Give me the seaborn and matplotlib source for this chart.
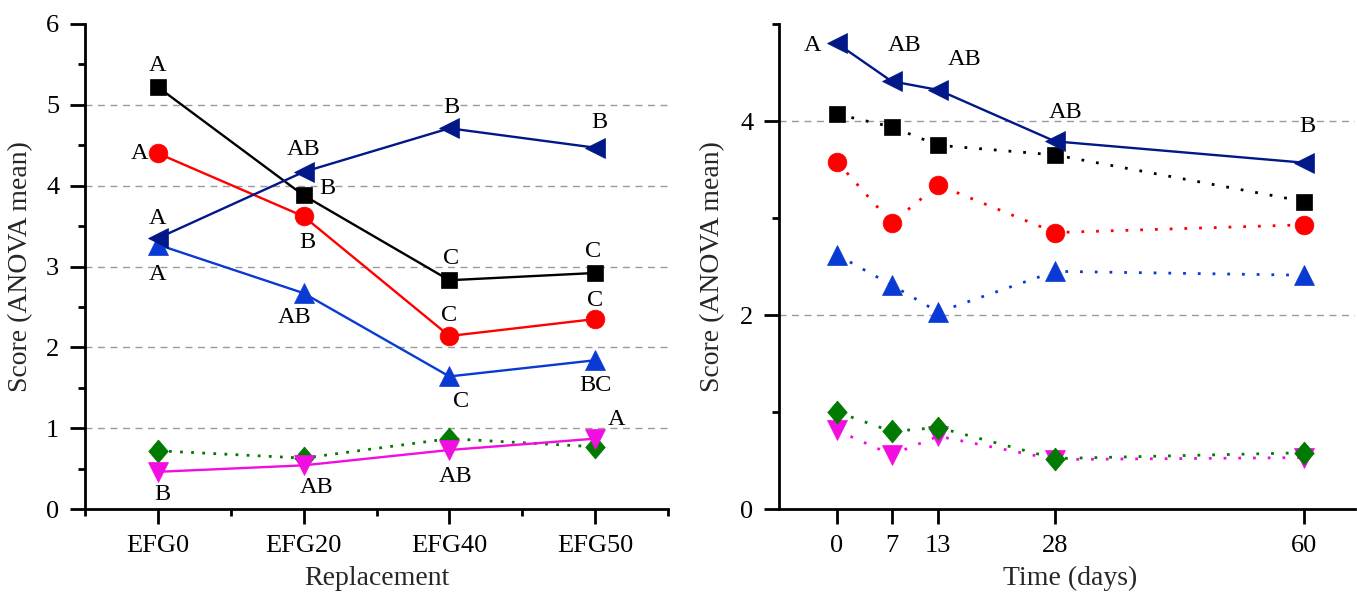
import numpy as np
import pandas as pd
import matplotlib
matplotlib.use("Agg")
import matplotlib.pyplot as plt
import seaborn as sns

# ---------------- data ----------------
replacement = ["EFG0", "EFG20", "EFG40", "EFG50"]
days = [0, 7, 13, 28, 60]

# left panel (Replacement)
L_black = [5.22, 3.88, 2.83, 2.92]
L_red = [4.40, 3.62, 2.14, 2.35]
L_blue = [3.27, 2.67, 1.64, 1.84]
L_navy = [3.35, 4.17, 4.71, 4.47]
L_green = [0.72, 0.63, 0.87, 0.77]
L_magenta = [0.46, 0.54, 0.73, 0.87]

L_black_let = ["A", "B", "C", "C"]
L_red_let = ["A", "B", "C", "C"]
L_blue_let = ["A", "AB", "C", "BC"]
L_navy_let = ["A", "AB", "B", "B"]
L_magenta_let = ["B", "AB", "AB", "A"]

# right panel (Time)
R_navy = [4.80, 4.41, 4.32, 3.79, 3.57]
R_black = [4.07, 3.94, 3.75, 3.65, 3.17]
R_red = [3.58, 2.95, 3.34, 2.85, 2.93]
R_blue = [2.62, 2.31, 2.03, 2.45, 2.41]
R_green = [1.00, 0.80, 0.84, 0.52, 0.58]
R_magenta = [0.81, 0.56, 0.75, 0.51, 0.53]

R_navy_let = ["A", "AB", "AB", "AB", "B"]

left_yticks = [0, 1, 2, 3, 4, 5, 6]
right_yticks = [0, 2, 4]

# ---------------- styles ----------------
C_BLACK = "#000000"
C_RED = "#ff0000"
C_BLUE = "#0a3ad4"
C_NAVY = "#001888"
C_GREEN = "#007a00"
C_MAGENTA = "#f20de0"
DIAMOND = [(0, 1), (0.85, 0), (0, -1), (-0.85, 0), (0, 1)]
DOT = (0, (1, 4.3))
DOT_L = (0, (1, 3.0))
PX = 0.72  # pixels -> points at dpi 100

sns.set_theme(style="white")
plt.rcParams["font.family"] = ["Liberation Serif", "DejaVu Serif"]
plt.rcParams["mathtext.fontset"] = "stix"

fig = plt.figure(figsize=(13.57, 5.94), dpi=100)
fig.patch.set_facecolor("white")
axL = fig.add_axes([85 / 1357, 1 - 509 / 594, 583 / 1357, 485 / 594])
axR = fig.add_axes([779 / 1357, 1 - 509 / 594, 576 / 1357, 485 / 594])


def draw(ax, x, y, color, marker, ms, ls, lw=1.7):
    df = pd.DataFrame({"x": x, "y": y})
    sns.lineplot(data=df, x="x", y="y", ax=ax, color=color, marker=marker,
                 markersize=ms, linestyle=ls, linewidth=lw, errorbar=None,
                 sort=False, markeredgecolor=color, markeredgewidth=0.5,
                 clip_on=False)


def label(ax, xs, ys, letters, offsets, color="black"):
    for xv, yv, t, (dx, dy) in zip(xs, ys, letters, offsets):
        ax.annotate(t, (xv, yv), xytext=(dx * PX, dy * PX), textcoords="offset points",
                    ha="center", va="center", fontsize=17.5, color=color)


# ---- left panel ----
draw(axL, replacement, L_green, C_GREEN, DIAMOND, 16.5, DOT_L, 2.0)
draw(axL, replacement, L_magenta, C_MAGENTA, "v", 14.5, "-")
draw(axL, replacement, L_blue, C_BLUE, "^", 14.5, "-")
draw(axL, replacement, L_red, C_RED, "o", 13.5, "-")
draw(axL, replacement, L_black, C_BLACK, "s", 12, "-")
draw(axL, replacement, L_navy, C_NAVY, "<", 14.5, "-")

xpos = np.arange(len(replacement))
label(axL, xpos, L_black, L_black_let, [(0, 22), (24, 7), (2, 22), (-2, 21)])
label(axL, xpos, L_red, L_red_let, [(-18, 0), (4, -26), (0, 21), (0, 19)])
label(axL, xpos, L_blue, L_blue_let, [(0, -30), (-9, -24), (12, -25), (0, -25)])
label(axL, xpos, L_navy, L_navy_let, [(0, 20), (0, 22), (2, 21), (4, 25)])
label(axL, xpos, L_magenta, L_magenta_let, [(4, -23), (13, -22), (6, -27), (21, 19)])

axL.set_xlim(-0.5, 3.5)
axL.set_ylim(0, 6)
axL.set_xticks(xpos)
axL.set_xticklabels(replacement)
axL.set_xticks(np.arange(-0.5, 3.6, 1.0), minor=True)
axL.set_yticks(left_yticks)
axL.set_yticks(np.arange(0.5, 6, 1.0), minor=True)
for g in left_yticks[1:-1]:
    axL.axhline(g, color="#9a9a9a", lw=1.0, ls=(0, (5, 4)), zorder=0)
axL.set_xlabel("Replacement", fontsize=20)
axL.set_ylabel("Score (ANOVA mean)", fontsize=20)
axL.xaxis.set_label_coords(0.5, -0.118)
axL.yaxis.set_label_coords(-0.089, 0.5)

# ---- right panel ----
draw(axR, days, R_black, C_BLACK, "s", 12, DOT, 2.0)
draw(axR, days, R_red, C_RED, "o", 13.5, DOT, 2.0)
draw(axR, days, R_blue, C_BLUE, "^", 14.5, DOT, 2.0)
draw(axR, days, R_magenta, C_MAGENTA, "v", 14.5, DOT, 2.0)
draw(axR, days, R_green, C_GREEN, DIAMOND, 16.5, DOT, 2.0)
draw(axR, days, R_navy, C_NAVY, "<", 14.5, "-")
label(axR, days, R_navy, R_navy_let, [(-25, -2), (13, 36), (26, 30), (10, 29), (3, 36)])

axR.set_xlim(-7.45, 66.5)
axR.set_ylim(0, 5)
axR.set_xticks(days)
axR.set_xticklabels([str(d) for d in days])
axR.set_yticks(right_yticks)
axR.set_yticks([1, 3, 5], minor=True)
for g in right_yticks[1:]:
    axR.axhline(g, color="#9a9a9a", lw=1.0, ls=(0, (5, 4)), zorder=0)
axR.set_xlabel("Time (days)", fontsize=20)
axR.set_ylabel("Score (ANOVA mean)", fontsize=20)
axR.xaxis.set_label_coords(0.505, -0.118)
axR.yaxis.set_label_coords(-0.093, 0.5)

for ax in (axL, axR):
    ax.set_facecolor("white")
    for s in ("top", "right"):
        ax.spines[s].set_visible(False)
    for s in ("left", "bottom"):
        ax.spines[s].set_linewidth(2.0)
        ax.spines[s].set_color("black")
    ax.tick_params(which="major", direction="out", length=10.5, width=2.0,
                   labelsize=19, pad=8, color="black", labelcolor="black",
                   bottom=True, left=True)
    ax.tick_params(which="minor", direction="out", length=5, width=2.0,
                   color="black", bottom=True, left=True)
    ax.grid(False)

fig.savefig("out.png", dpi=100, facecolor="white")
